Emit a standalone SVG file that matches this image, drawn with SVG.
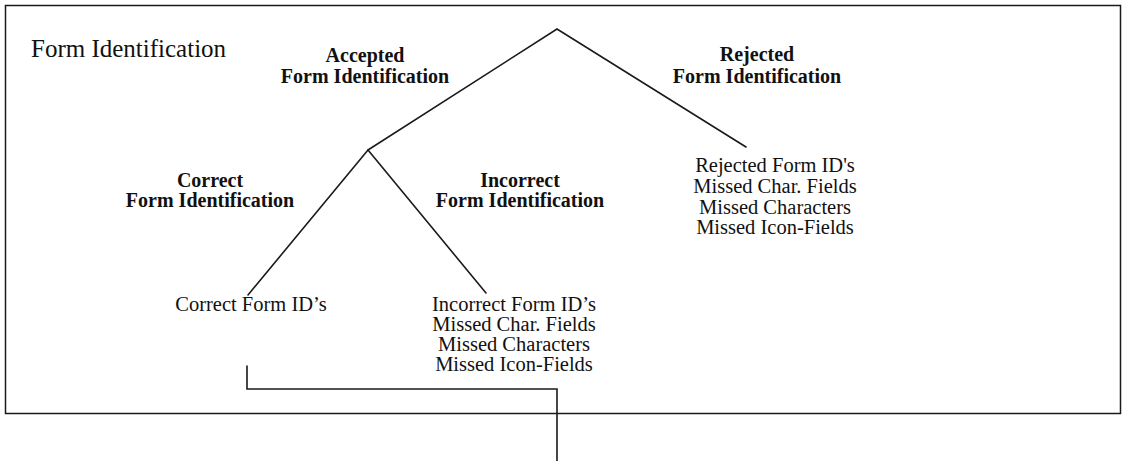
<svg xmlns="http://www.w3.org/2000/svg" width="1130" height="461" viewBox="0 0 1130 461">
  <style>
    .frame { fill: none; stroke: #1a1a1a; stroke-width: 1.5; }
    .edge { fill: none; stroke: #1a1a1a; stroke-width: 1.6; stroke-linecap: round; stroke-linejoin: miter; }
    .title { font-family: "Liberation Serif", "Times New Roman", serif; font-size: 25px; fill: #111; }
    .label { font-family: "Liberation Serif", "Times New Roman", serif; font-size: 20px; font-weight: bold; fill: #111; text-anchor: middle; }
    .leaf { font-family: "Liberation Serif", "Times New Roman", serif; font-size: 20.5px; fill: #111; text-anchor: middle; }
  </style>
  <rect width="1130" height="461" fill="#ffffff"/>

  <!-- outer frame and heading -->
  <g id="frame">
    <rect class="frame" x="5.5" y="5.5" width="1115" height="408"/>
    <text class="title" x="31" y="57">Form Identification</text>
  </g>

  <!-- tree branches and the exit connector -->
  <g id="connectors">
    <polyline class="edge" points="368,150 557,29 746,147"/>
    <polyline class="edge" points="248,295 368,150 486,293"/>
    <polyline class="edge" points="247,366 247,389 557,389 557,461"/>
  </g>

  <g id="accepted">
    <text class="label" x="365" y="62">Accepted</text>
    <text class="label" x="365" y="83">Form Identification</text>
  </g>

  <g id="rejected">
    <text class="label" x="757" y="61">Rejected</text>
    <text class="label" x="757" y="83">Form Identification</text>
  </g>

  <g id="rejected-results">
    <text class="leaf" x="775" y="172">Rejected Form ID's</text>
    <text class="leaf" x="775" y="193">Missed Char. Fields</text>
    <text class="leaf" x="775" y="214">Missed Characters</text>
    <text class="leaf" x="775" y="234">Missed Icon-Fields</text>
  </g>

  <g id="correct">
    <text class="label" x="210" y="187">Correct</text>
    <text class="label" x="210" y="207">Form Identification</text>
  </g>

  <g id="incorrect">
    <text class="label" x="520" y="187">Incorrect</text>
    <text class="label" x="520" y="207">Form Identification</text>
  </g>

  <g id="correct-results">
    <text class="leaf" x="251" y="311">Correct Form ID’s</text>
  </g>

  <g id="incorrect-results">
    <text class="leaf" x="514" y="311">Incorrect Form ID’s</text>
    <text class="leaf" x="514" y="331">Missed Char. Fields</text>
    <text class="leaf" x="514" y="351">Missed Characters</text>
    <text class="leaf" x="514" y="371">Missed Icon-Fields</text>
  </g>
</svg>
